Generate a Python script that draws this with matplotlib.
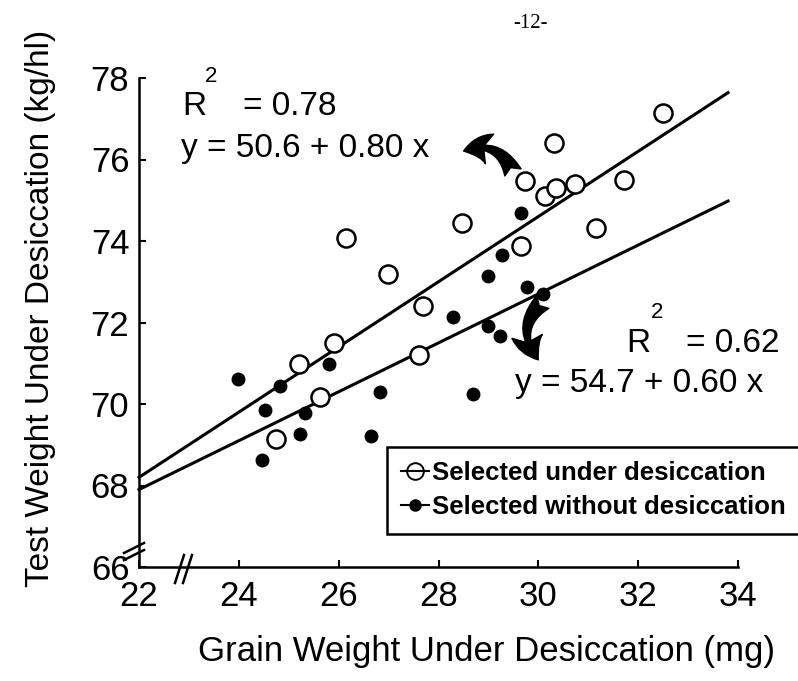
import matplotlib
matplotlib.use("Agg")
import matplotlib.pyplot as plt
from matplotlib.lines import Line2D
from matplotlib.patches import FancyArrowPatch
import numpy as np

plt.rcParams['font.family'] = ['Liberation Sans', 'DejaVu Sans']

# Data
under_x = [24.74, 25.21, 25.63, 25.90, 26.15, 26.99, 27.61, 27.68, 28.47, 29.66,
           29.73, 30.13, 30.32, 30.35, 30.73, 31.16, 31.72, 32.50]
under_y = [69.14, 70.98, 70.17, 71.50, 74.08, 73.18, 71.20, 72.40, 74.43, 73.88,
           75.47, 75.10, 76.41, 75.31, 75.39, 74.33, 75.50, 77.14]
without_x = [23.99, 24.46, 24.53, 24.82, 25.23, 25.33, 25.80, 26.64, 26.82, 28.29,
             28.69, 29.00, 29.00, 29.23, 29.28, 29.65, 29.78, 30.10]
without_y = [70.62, 68.63, 69.86, 70.44, 69.26, 69.77, 70.98, 69.22, 70.30, 72.14,
             70.24, 73.14, 71.91, 71.67, 73.66, 74.68, 72.87, 72.69]
fit_under = (50.6, 0.80)
fit_without = (54.7, 0.60)
x_ticks = [22, 24, 26, 28, 30, 32, 34]
y_ticks = [66, 68, 70, 72, 74, 76, 78]
labels = ["Selected under desiccation", "Selected without desiccation"]

W, H = 798, 681
fig = plt.figure(figsize=(W / 100, H / 100), dpi=100)
ax = fig.add_axes([139 / W, 1 - 567 / H, (738 - 139) / W, (567 - 78) / H])

def fp(x, y):
    return (x / W, 1 - y / H)

xl = np.array([22, 33.8])
ax.plot(xl, fit_under[0] + fit_under[1] * xl, color='black', lw=2.2, clip_on=False)
ax.plot(xl, fit_without[0] + fit_without[1] * xl, color='black', lw=2.2, clip_on=False)

ax.plot(under_x, under_y, 'o', ms=13, mfc='white', mec='black', mew=1.8, ls='none', zorder=3)
ax.plot(without_x, without_y, 'o', ms=9, mfc='black', mec='black', ls='none', zorder=3)

ax.set_xlim(22, 34)
ax.set_ylim(66, 78)
ax.set_xticks(x_ticks)
ax.set_yticks(y_ticks)
ax.set_xticklabels([str(t) for t in x_ticks])
ax.set_yticklabels([str(t) for t in y_ticks])
ax.tick_params(direction='in', length=5, width=1.5, labelsize=25)
ax.tick_params(axis='x', pad=9)
ax.tick_params(axis='y', pad=7)
for s in ['top', 'right']:
    ax.spines[s].set_visible(False)
for s in ['left', 'bottom']:
    ax.spines[s].set_linewidth(1.8)

fig.text(*fp(487, 651), "Grain Weight Under Desiccation (mg)", fontsize=25,
         ha='center', va='center')
fig.text(*fp(41, 308), "Test Weight Under Desiccation (kg/hl)", fontsize=24,
         ha='center', va='center', rotation=90)

# break marks
for dx in (0, 8):
    fig.add_artist(Line2D([(175 + dx) / W, (184 + dx) / W],
                          [1 - 583 / H, 1 - 555 / H], color='black', lw=1.8))
for dy in (0, 7):
    fig.add_artist(Line2D([124 / W, 144 / W],
                          [1 - (553 + dy) / H, 1 - (543 + dy) / H], color='black', lw=1.8))

# annotations
fs = 24
fig.text(*fp(182, 115), "R", fontsize=fs, ha='left', va='baseline')
fig.text(*fp(205, 82), "2", fontsize=16, ha='left', va='baseline')
fig.text(*fp(243, 115), "= 0.78", fontsize=fs, ha='left', va='baseline')
fig.text(*fp(181, 157), "y = 50.6 + 0.80 x", fontsize=fs, ha='left', va='baseline')

fig.text(*fp(626, 352), "R", fontsize=fs, ha='left', va='baseline')
fig.text(*fp(651, 318), "2", fontsize=16, ha='left', va='baseline')
fig.text(*fp(686, 352), "= 0.62", fontsize=fs, ha='left', va='baseline')
fig.text(*fp(515, 392), "y = 54.7 + 0.60 x", fontsize=fs, ha='left', va='baseline')

fig.text(*fp(530, 28), "-12-", fontsize=15, family='Liberation Serif', ha='center', va='baseline')

# curved arrows
style = "fancy,head_length=1.1,head_width=1.3,tail_width=0.75"
a1 = FancyArrowPatch(fp(514, 175), fp(461, 152), transform=fig.transFigure,
                     connectionstyle="arc3,rad=0.5", arrowstyle=style,
                     color='black', mutation_scale=17)
fig.add_artist(a1)
a2 = FancyArrowPatch(fp(545, 300), fp(540, 362), transform=fig.transFigure,
                     connectionstyle="arc3,rad=0.5", arrowstyle=style,
                     color='black', mutation_scale=17)
fig.add_artist(a2)

# legend
h1 = Line2D([], [], color='black', lw=1.5, marker='o', ms=12, mfc='none', mec='black', mew=1.4)
h2 = Line2D([], [], color='black', lw=1.5, marker='o', ms=8, mfc='black', mec='black')
leg = fig.legend([h1, h2], labels, loc='upper left',
                 bbox_to_anchor=(387 / W, 1 - 535 / H, (800 - 387) / W, (535 - 447) / H),
                 mode='expand', frameon=True, fancybox=False, edgecolor='black', framealpha=1,
                 prop={'weight': 'bold', 'size': 18.5}, handlelength=1.1, handletextpad=0.1,
                 borderpad=0.55, labelspacing=0.4, borderaxespad=0)
leg.get_frame().set_linewidth(1.8)

fig.savefig("out.png", dpi=100)
